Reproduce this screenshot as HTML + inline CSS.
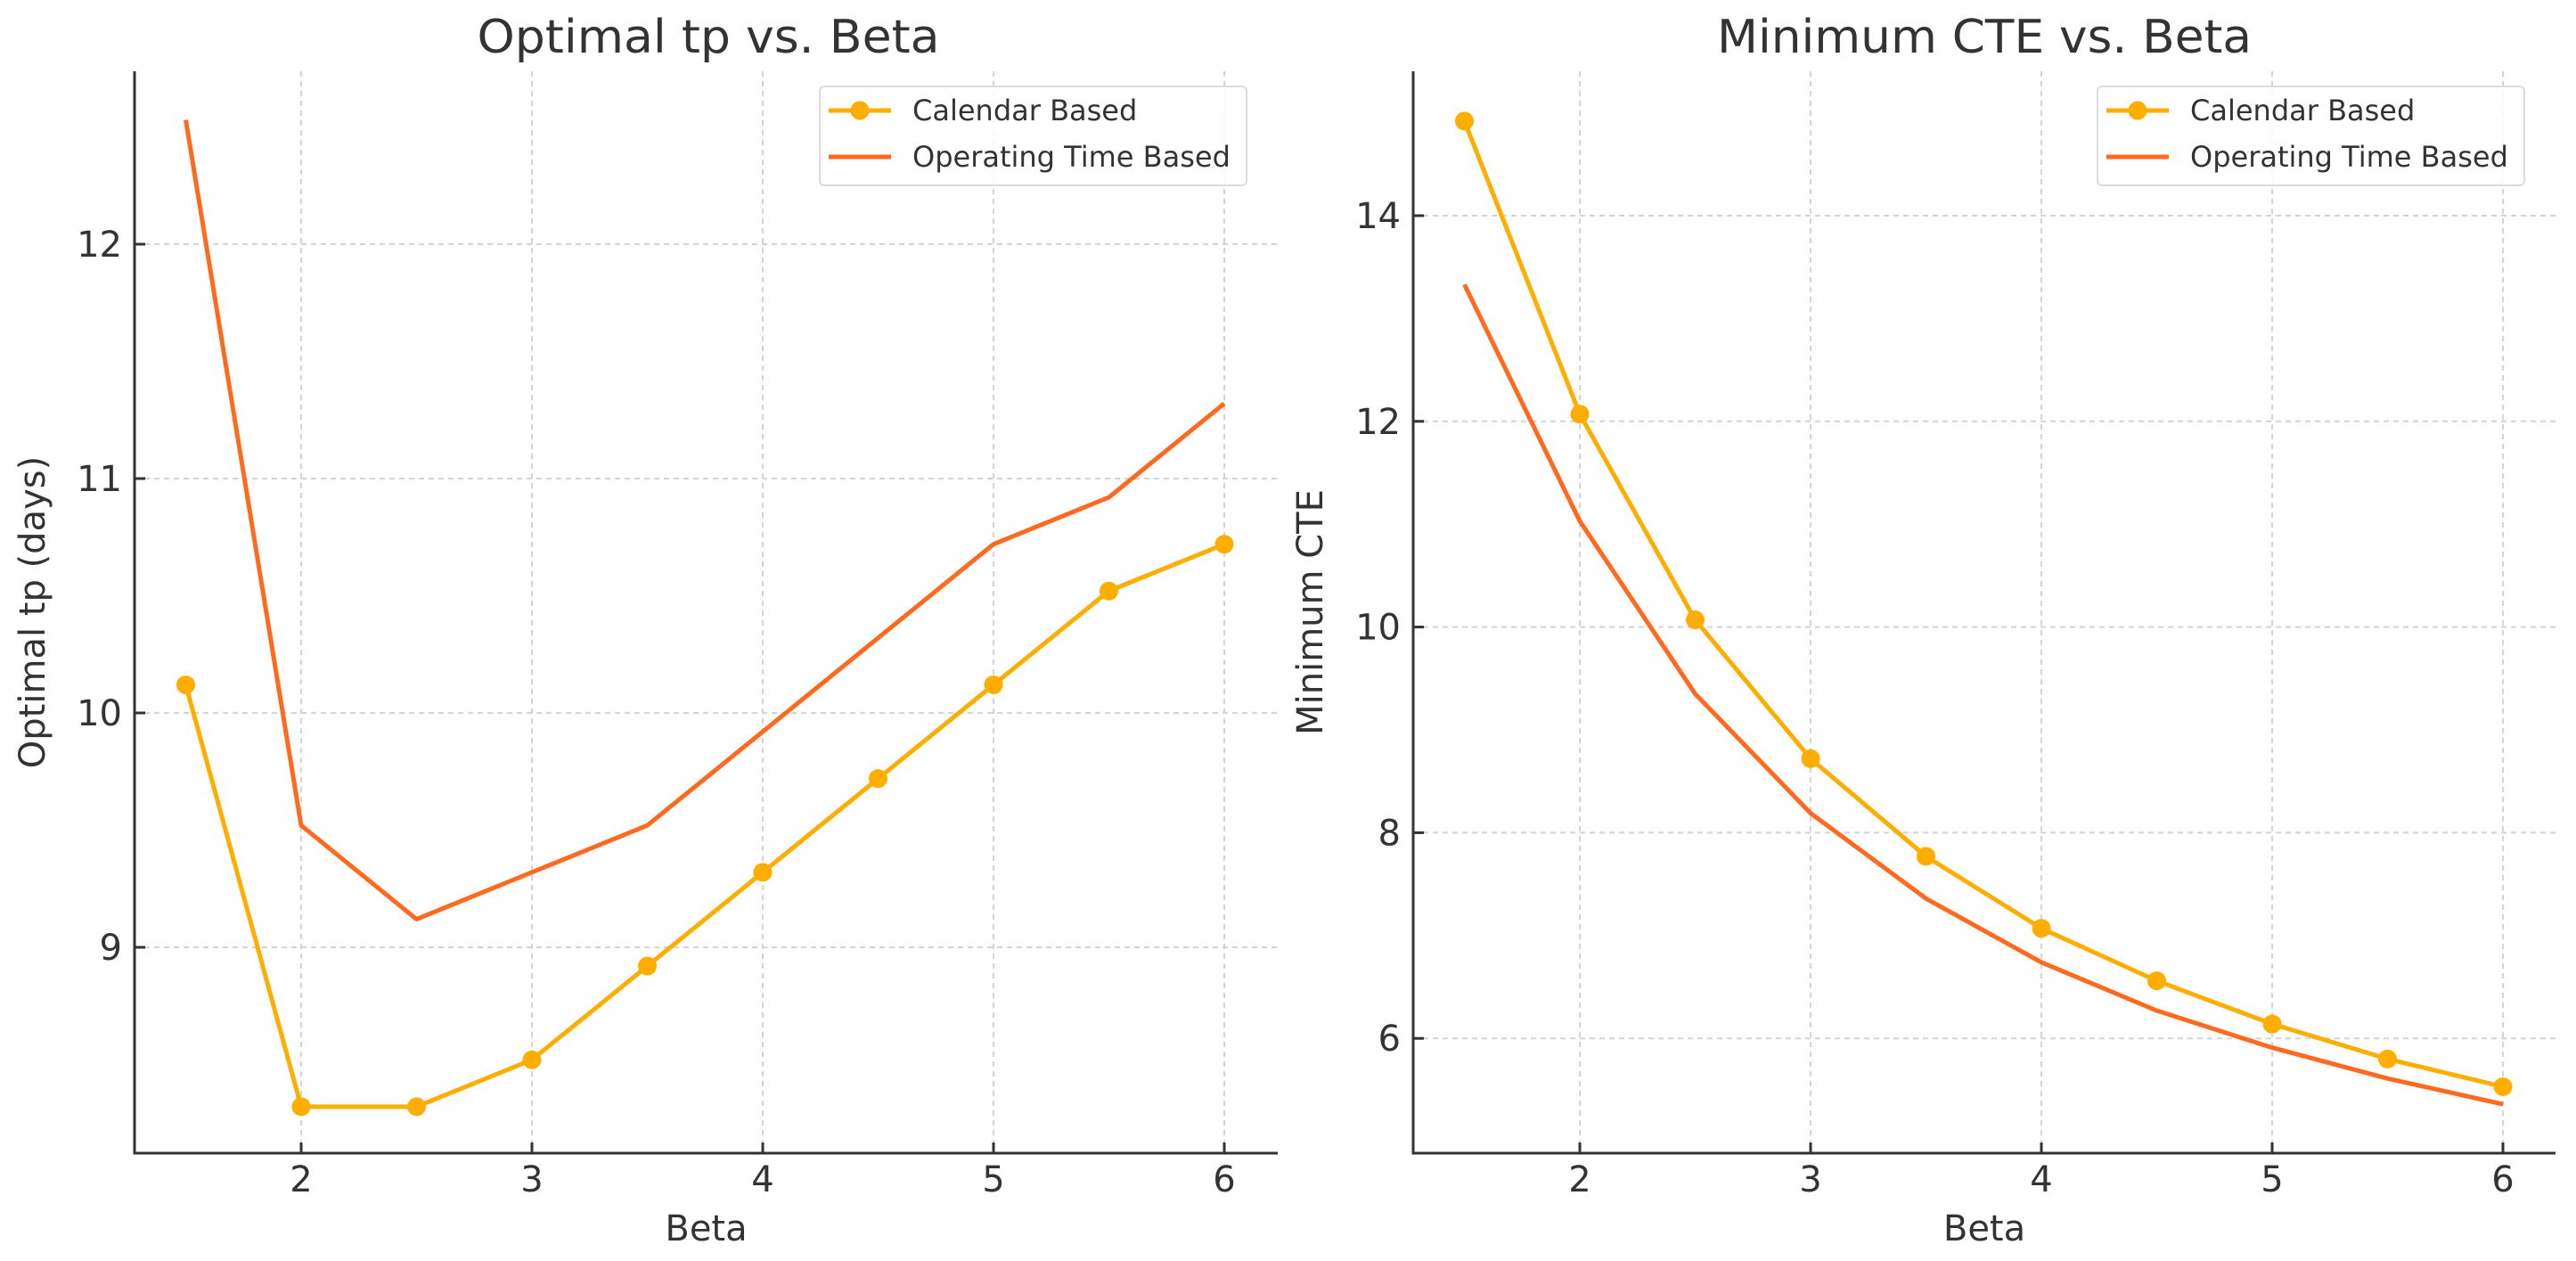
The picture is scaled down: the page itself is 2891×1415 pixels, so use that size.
<!DOCTYPE html>
<html><head><meta charset="utf-8">
<style>
html,body{margin:0;padding:0;background:#fff;}
svg{display:block;}
text{font-family:"DejaVu Sans","Liberation Sans",sans-serif;fill:#333;}
</style></head>
<body>
<svg id="chart" width="2891" height="1415" viewBox="0 0 2891 1415" xmlns="http://www.w3.org/2000/svg"></svg>
<script>
// ---- data ----
const betaValues = [1.5, 2, 2.5, 3, 3.5, 4, 4.5, 5, 5.5, 6];
const tpCalendar = [10.12, 8.32, 8.32, 8.52, 8.92, 9.32, 9.72, 10.12, 10.52, 10.72];
const tpOperating = [12.53, 9.52, 9.12, 9.32, 9.52, 9.92, 10.32, 10.72, 10.92, 11.32];
const cteCalendar = [14.92, 12.07, 10.07, 8.72, 7.77, 7.07, 6.56, 6.14, 5.80, 5.53];
const cteOperating = [13.33, 11.03, 9.35, 8.19, 7.36, 6.74, 6.27, 5.91, 5.61, 5.36];
const xTicks = [2, 3, 4, 5, 6];
const tpTicks = [9, 10, 11, 12];
const cteTicks = [6, 8, 10, 12, 14];
const legendLabels = ["Calendar Based", "Operating Time Based"];

const NS = "http://www.w3.org/2000/svg";
const svg = document.getElementById('chart');
const CAL = "#FFAE00", OP = "#FF6A1F";
function mk(tag, attrs, parent){
  const e = document.createElementNS(NS, tag);
  for (const k in attrs) e.setAttribute(k, attrs[k]);
  (parent||svg).appendChild(e);
  return e;
}

function panel(cfg){
  const g = mk('g', {});
  
  
  const L = cfg.left, R = cfg.right, T = 80, B = 1294;
  const xs = v => cfg.x2 + (v - 2) * 259;
  const ys = v => cfg.yRef + (cfg.yRefVal - v) * cfg.yUnit;
  xTicks.forEach(t => {
    const l = mk('line', {x1:xs(t), x2:xs(t), y1:T, y2:B, stroke:'#d4d4d4', 'stroke-width':2, 'stroke-dasharray':'6 5'}, g);
    
    
    const tk = mk('line', {x1:xs(t), x2:xs(t), y1:B, y2:B-12, stroke:'#333', 'stroke-width':3}, g);
    
    
    const tx = mk('text', {x:xs(t), y:1337, 'text-anchor':'middle', 'font-size':40}, g);
    tx.textContent = t;
    
    
  });
  cfg.yTicks.forEach(t => {
    const l = mk('line', {x1:L, x2:R, y1:ys(t), y2:ys(t), stroke:'#d4d4d4', 'stroke-width':2, 'stroke-dasharray':'6 5'}, g);
    
    
    const tk = mk('line', {x1:L, x2:L+12, y1:ys(t), y2:ys(t), stroke:'#333', 'stroke-width':3}, g);
    
    
    const tx = mk('text', {x:L-14, y:ys(t)+14, 'text-anchor':'end', 'font-size':40}, g);
    tx.textContent = t;
    
    
  });
  const sp = mk('path', {d:`M${L},${T} L${L},${B} L${R},${B}`, fill:'none', stroke:'#333', 'stroke-width':3}, g);
  
  
  const opPts = betaValues.map((b,i)=>xs(b)+','+ys(cfg.op[i])).join(' ');
  const op = mk('polyline', {points:opPts, fill:'none', stroke:OP, 'stroke-width':5, 'stroke-linejoin':'round'}, g);
  
  
  const calPts = betaValues.map((b,i)=>xs(b)+','+ys(cfg.cal[i])).join(' ');
  const cal = mk('polyline', {points:calPts, fill:'none', stroke:CAL, 'stroke-width':5, 'stroke-linejoin':'round'}, g);
  
  
  betaValues.forEach((b,i) => {
    const c = mk('circle', {cx:xs(b), cy:ys(cfg.cal[i]), r:10.5, fill:CAL}, g);
    
    
  });
  const ti = mk('text', {x:cfg.titleX, y:59, 'text-anchor':'middle', 'font-size':52, textLength:cfg.titleW, lengthAdjust:'spacingAndGlyphs'}, g);
  ti.textContent = cfg.title;
  
  
  const xl = mk('text', {x:(L+R)/2, y:1392, 'text-anchor':'middle', 'font-size':40}, g);
  xl.textContent = 'Beta';
  
  
  const cy = (T+B)/2;
  const yl = mk('text', {x:cfg.ylabX, y:cy, 'text-anchor':'middle', 'font-size':40, transform:`rotate(-90 ${cfg.ylabX} ${cy})`}, g);
  yl.textContent = cfg.ylab;
  
  
  const lx = R - 35 - 479, ly = 97;
  const lg = mk('g', {}, g);
  
  
  mk('rect', {x:lx, y:ly, width:479, height:111, rx:5, fill:'#fff', 'fill-opacity':0.85, stroke:'#dcdcdc', 'stroke-width':2}, lg);
  mk('line', {x1:lx+10, x2:lx+80, y1:124, y2:124, stroke:CAL, 'stroke-width':5}, lg);
  mk('circle', {cx:lx+45, cy:124, r:10.5, fill:CAL}, lg);
  mk('line', {x1:lx+10, x2:lx+80, y1:176, y2:176, stroke:OP, 'stroke-width':5}, lg);
  legendLabels.forEach((s,i) => {
    const t = mk('text', {x:lx+104, y:(i?176:124)+11, 'font-size':32}, lg);
    t.textContent = s;
    
    
  });
}

panel({name:'optimal-tp-chart', left:151, right:1434, x2:338, yRef:274, yRefVal:12, yUnit:263,
  yTicks:tpTicks, cal:tpCalendar, op:tpOperating, title:'Optimal tp vs. Beta', titleX:795, titleW:519,
  ylab:'Optimal tp (days)', ylabX:50});
panel({name:'minimum-cte-chart', left:1586, right:2868, x2:1773, yRef:242, yRefVal:14, yUnit:115.4,
  yTicks:cteTicks, cal:cteCalendar, op:cteOperating, title:'Minimum CTE vs. Beta', titleX:2227, titleW:600,
  ylab:'Minimum CTE', ylabX:1484});
</script>
</body></html>
